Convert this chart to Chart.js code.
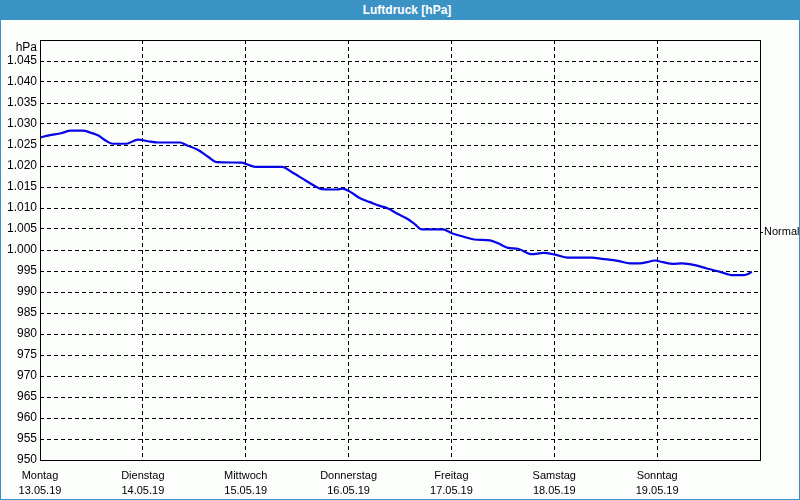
<!DOCTYPE html>
<html>
<head>
<meta charset="utf-8">
<script src="https://cdn.jsdelivr.net/npm/chart.js@4.4.1/dist/chart.umd.min.js"></script>
<style>
  html, body { margin: 0; padding: 0; background: #fcfefc; }
  #title {
    width: 800px; height: 20px; background: #3b93c5; color: #fff;
    font: bold 12px "Liberation Sans", Arial, sans-serif; line-height: 20px;
    text-align: center; box-sizing: border-box; padding-left: 14px;
  }
  #box {
    width: 800px; height: 480px; box-sizing: border-box;
    border: 1px solid #3b93c5; border-top: none; background: #fcfefc;
  }
  canvas { display: block; }
</style>
</head>
<body>
<div id="title">Luftdruck [hPa]</div>
<div id="box"><canvas id="chart" width="798" height="479"></canvas></div>
<script>
  // Luftdruck — Stunden seit Montag 00:00 und Messwerte (hPa)
  const hours = [0, 2.1, 4.9, 7.2, 10.0, 11.9, 13.5, 15.4, 17.0, 20.1, 22.9, 25.2, 27.5, 32.7, 34.1,
    36.9, 39.2, 41.3, 47.1, 48.3, 50.2, 56.5, 58.8, 61.1, 63.5, 65.8, 69.3, 70.5, 72.3, 74.7, 77.0,
    79.3, 81.2, 83.3, 85.6, 87.5, 89.1, 94.0, 96.1, 98.7, 101.3, 105.0, 106.9, 109.2, 111.5, 114.8,
    117.4, 120.2, 123.2, 128.8, 131.1, 134.9, 137.7, 140.0, 141.6, 143.5, 145.4, 147.7, 149.8, 152.8,
    155.6, 158.7, 161.7, 164.0, 165.2, 166.1];
  const pressure = [1026.8, 1027.3, 1027.8, 1028.4, 1028.4, 1027.9, 1027.3, 1026.0, 1025.3, 1025.3,
    1026.3, 1025.9, 1025.6, 1025.6, 1025.0, 1023.8, 1022.2, 1020.9, 1020.8, 1020.4, 1019.8, 1019.8,
    1018.5, 1017.1, 1015.6, 1014.5, 1014.4, 1014.6, 1013.9, 1012.3, 1011.4, 1010.5, 1009.9, 1008.7,
    1007.5, 1006.1, 1004.9, 1004.9, 1004.0, 1003.2, 1002.5, 1002.3, 1001.6, 1000.5, 1000.3, 999.0,
    999.3, 998.9, 998.2, 998.2, 997.9, 997.4, 996.8, 996.8, 997.1, 997.5, 997.1, 996.7, 996.8, 996.4,
    995.6, 994.8, 994.0, 994.0, 994.3, 994.8];

  const dayNames = ["Montag", "Dienstag", "Mittwoch", "Donnerstag", "Freitag", "Samstag", "Sonntag"];
  const dayDates = ["13.05.19", "14.05.19", "15.05.19", "16.05.19", "17.05.19", "18.05.19", "19.05.19"];
  const dayTicks = [0, 24, 48, 72, 96, 120, 144, 168];
  const yMin = 950, yMax = 1050, yStep = 5;
  const normalValue = 1004.2;

  const FONT = { family: "'Liberation Sans', Arial, sans-serif", size: 11 };
  const YFONT = { family: "'Liberation Sans', Arial, sans-serif", size: 12 };
  const INK = "#000000";

  const fmt = (v) => v >= 1000 ? "1." + String(v).slice(1) : String(v);

  // solid frame around plot area
  const framePlugin = {
    id: "frame",
    afterDatasetsDraw(chart) {
      const a = chart.chartArea, ctx = chart.ctx;
      ctx.save();
      ctx.strokeStyle = INK;
      ctx.lineWidth = 1;
      ctx.setLineDash([]);
      ctx.strokeRect(Math.round(a.left) + 0.5, Math.round(a.top) + 0.5,
        Math.round(a.right - a.left), Math.round(a.bottom - a.top));
      ctx.restore();
    }
  };

  new Chart(document.getElementById("chart"), {
    type: "line",
    data: {
      datasets: [{
        data: hours.map((h, i) => ({ x: h, y: pressure[i] })),
        borderColor: "#0505e6",
        borderWidth: 2.2,
        pointRadius: 0,
        cubicInterpolationMode: "monotone",
        fill: false,
      }],
    },
    plugins: [framePlugin],
    options: {
      responsive: false,
      devicePixelRatio: 1,
      animation: false,
      layout: { padding: { top: 20, left: 0, right: 0, bottom: 0 } },
      plugins: { legend: { display: false }, tooltip: { enabled: false } },
      scales: {
        x: {
          type: "linear",
          min: 0, max: 168,
          afterBuildTicks: (s) => { s.ticks = dayTicks.map((v) => ({ value: v })); },
          afterFit: (s) => { s.height = 39; },
          grid: { color: INK, lineWidth: 1, drawTicks: false },
          border: { display: false, dash: [4, 3] },
          ticks: {
            autoSkip: false, maxRotation: 0, padding: 8,
            color: INK, font: { ...FONT, lineHeight: 1.4 },
            callback: (v, i) => i < dayNames.length ? [dayNames[i], dayDates[i]] : "",
          },
        },
        y: {
          min: yMin, max: yMax,
          afterFit: (s) => { s.width = 39; },
          grid: { color: INK, lineWidth: 1, drawTicks: false },
          border: { display: false, dash: [4, 3] },
          ticks: {
            stepSize: yStep, autoSkip: false, padding: 3,
            color: INK, font: YFONT,
            callback: (v) => v === yMax ? ["", "hPa"] : fmt(v),
          },
        },
        y2: {
          position: "right",
          min: yMin, max: yMax,
          afterBuildTicks: (s) => { s.ticks = [{ value: normalValue }]; },
          afterFit: (s) => { s.width = 39; },
          grid: { drawOnChartArea: false, drawTicks: true, tickLength: 3, tickColor: INK },
          border: { display: false },
          ticks: { padding: 1, color: INK, font: FONT, callback: () => "Normal" },
        },
      },
    },
  });
</script>
</body>
</html>
